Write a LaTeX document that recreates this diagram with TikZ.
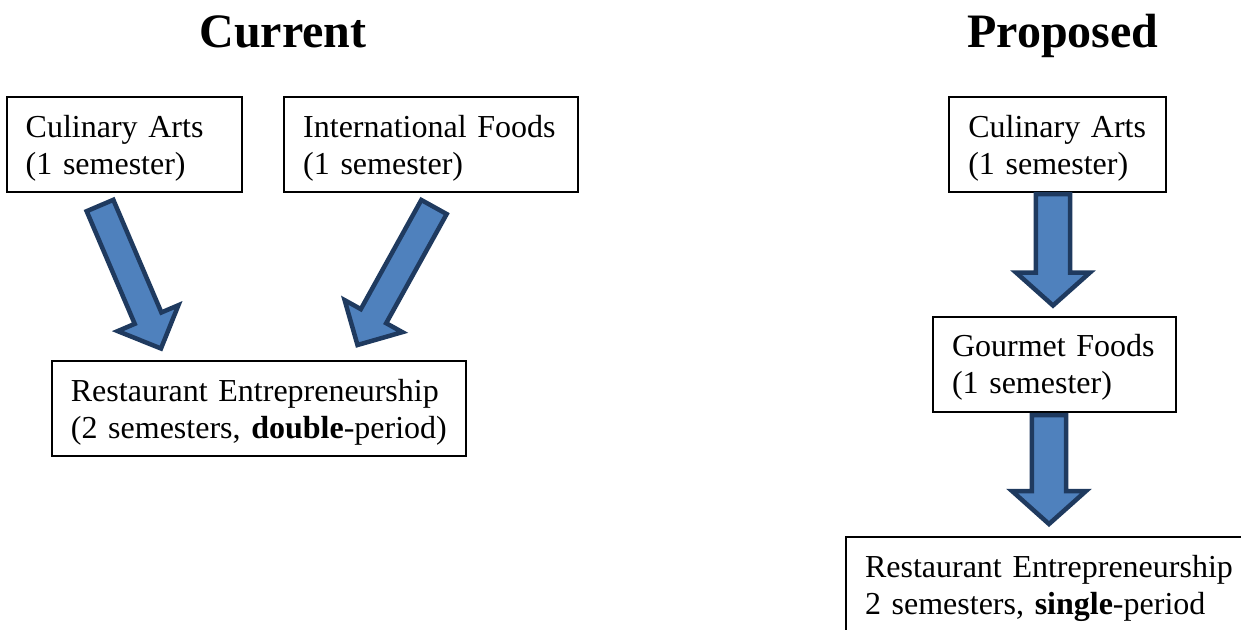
\documentclass[tikz,border=0pt]{standalone}
\usepackage{fontspec}
\setmainfont{Liberation Serif}
\usetikzlibrary{calc}
\definecolor{arrowfill}{HTML}{4F81BD}
\definecolor{arrowline}{HTML}{1F3A5F}
\tikzset{
	course/.style={draw, line width=1pt, anchor=north west, align=left, inner xsep=9.5pt, inner ysep=0pt,
		minimum height=47.5pt, font=\fontsize{16}{18.4}\selectfont, execute at begin node=\rule{0pt}{14.7pt}},
	heading/.style={anchor=base, font=\fontsize{24}{28}\selectfont\bfseries},
	blockarrow/.style={draw=arrowline, fill=arrowfill, line width=2.25pt, line join=miter}
}
% tail, tip, half shaft, half head, head length
\newcommand{\fatarrow}[5]{%
	\path ($(#2)!#5!(#1)$) coordinate (hb);
	\draw[blockarrow] ($(#1)!#3!90:(#2)$) -- ($(hb)!#3!90:(#2)$) -- ($(hb)!#4!90:(#2)$) -- (#2)
		-- ($(hb)!#4!-90:(#2)$) -- ($(hb)!#3!-90:(#2)$) -- ($(#1)!#3!-90:(#2)$) -- cycle;
}
\begin{document}
\begin{tikzpicture}[x=0.5pt, y=-0.5pt]
	\useasboundingbox (0,0) rectangle (1241,629);
	\clip (0,0) rectangle (1241,629);
	\node[heading] (cur) at (283,47) {Current};
	\node[heading] (prop) at (1063,47) {Proposed};
	% current
	\node[course, text width=98.7pt] (caL) at (5.7,96) {Culinary Arts\\(1 semester)};
	\node[course, text width=128pt] (ifL) at (283.2,96) {International Foods\\(1 semester)};
	\node[course, text width=188pt] (reL) at (50.9,360) {Restaurant Entrepreneurship\\(2 semesters, \textbf{double}-period)};
	\coordinate (caLt) at (100,205.5);
	\coordinate (caLh) at (161,348.5);
	\coordinate (ifLt) at (434,207);
	\coordinate (ifLh) at (357.5,345);
	\fatarrow{caLt}{caLh}{7.25pt}{16.5pt}{16.5pt}
	\fatarrow{ifLt}{ifLh}{7.25pt}{16.5pt}{16.5pt}
	% proposed
	\node[course, text width=89.3pt] (caR) at (948.3,96) {Culinary Arts\\(1 semester)};
	\node[course, text width=102.5pt] (gfR) at (932,315.5) {Gourmet Foods\\(1 semester)};
	\node[course, text width=188pt] (reR) at (845,536.3) {Restaurant Entrepreneurship\\2 semesters, \textbf{single}-period};
	\coordinate (caRt) at (1053,194);
	\coordinate (caRh) at (1053,305.5);
	\coordinate (gfRt) at (1049,415);
	\coordinate (gfRh) at (1049,524);
	\fatarrow{caRt}{caRh}{8.6pt}{18.5pt}{16.5pt}
	\fatarrow{gfRt}{gfRh}{8.6pt}{18.5pt}{16.5pt}
\end{tikzpicture}
\end{document}
